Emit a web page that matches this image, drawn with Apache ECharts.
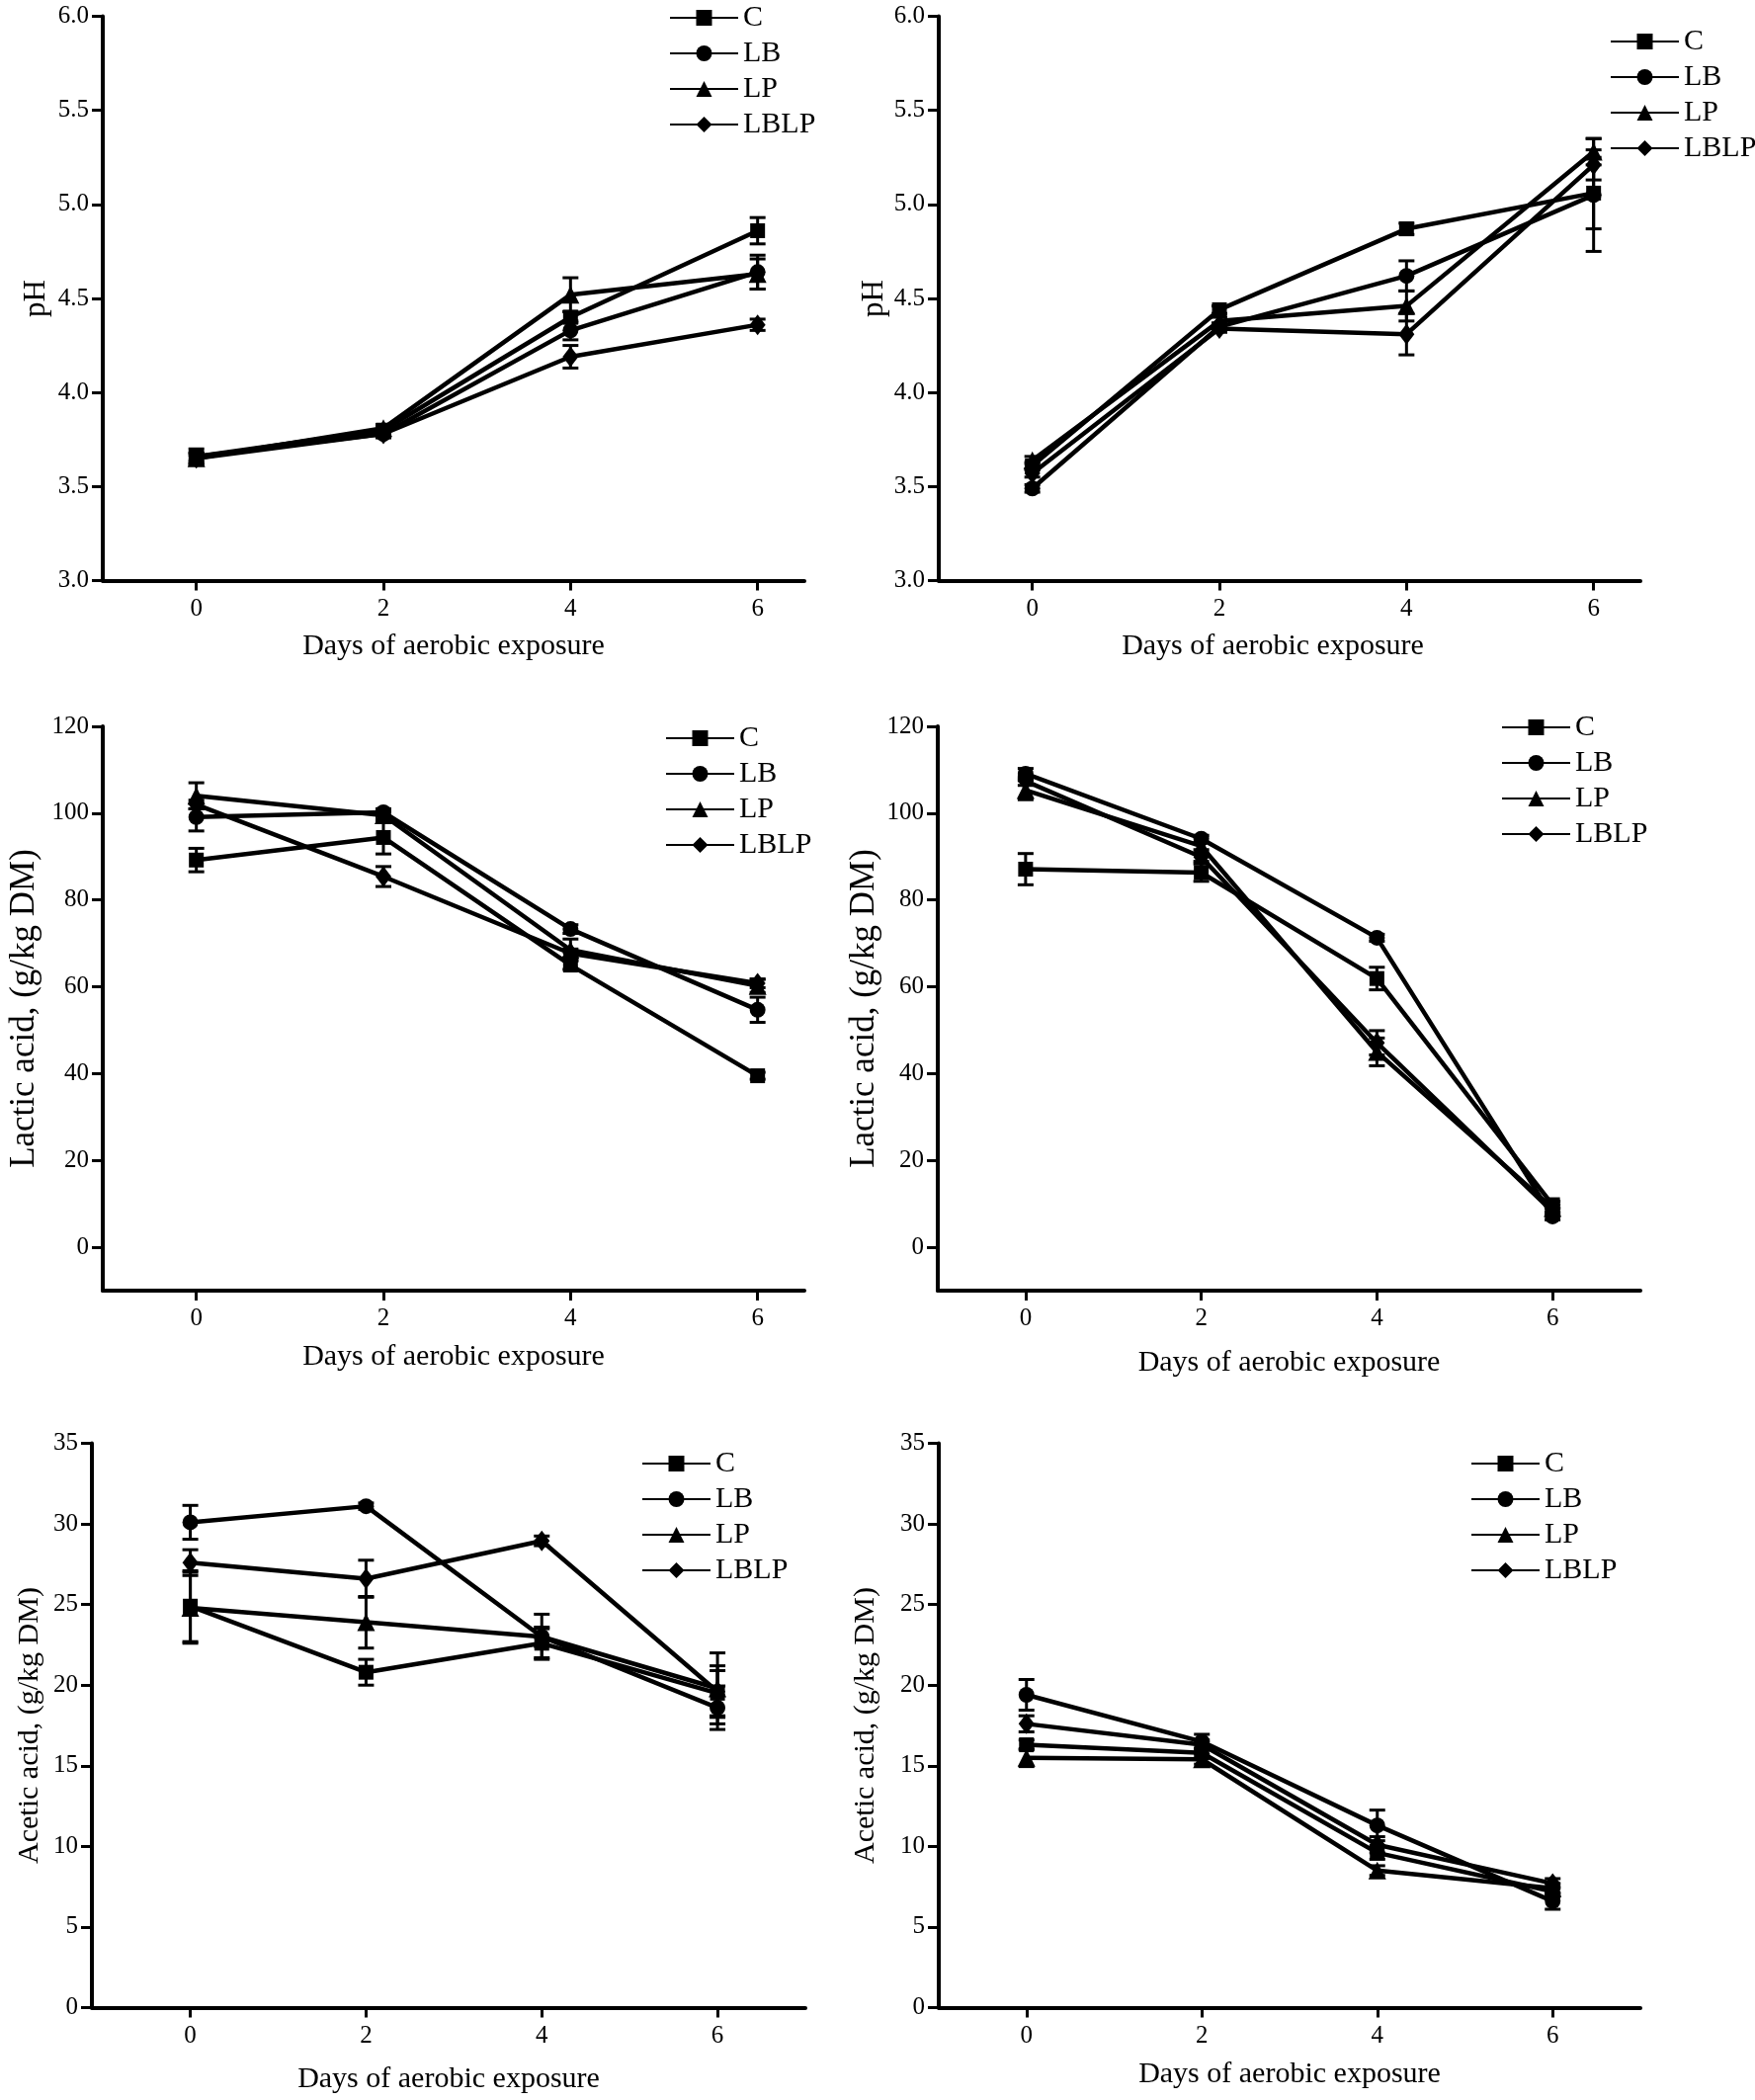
<!DOCTYPE html>
<html>
<head>
<meta charset="utf-8">
<script src="https://cdn.jsdelivr.net/npm/echarts@6/dist/echarts.min.js"></script>
<style>
html,body{margin:0;padding:0;background:#fff;}
#chart{width:1776px;height:2125px;}
</style>
</head>
<body>
<div id="chart"></div>
<script>
// ---- data ----
const days = [0, 2, 4, 6];
const seriesNames = ['C', 'LB', 'LP', 'LBLP'];
const xTickLabels = [0, 2, 4, 6];

// Panel A: pH (left)
const phA_C = [3.66, 3.80, 4.40, 4.86];
const phA_LB = [3.66, 3.78, 4.33, 4.64];
const phA_LP = [3.65, 3.81, 4.52, 4.63];
const phA_LBLP = [3.65, 3.78, 4.19, 4.36];
const phA_C_err = [0.04, 0.02, 0.03, 0.07];
const phA_LB_err = [0.02, 0.02, 0.05, 0.09];
const phA_LP_err = [0.03, 0.02, 0.09, 0.08];
const phA_LBLP_err = [0.02, 0.02, 0.06, 0.03];

// Panel B: pH (right)
const phB_C = [3.61, 4.44, 4.87, 5.06];
const phB_LB = [3.49, 4.35, 4.62, 5.05];
const phB_LP = [3.64, 4.38, 4.46, 5.28];
const phB_LBLP = [3.57, 4.34, 4.31, 5.21];
const phB_C_err = [0.02, 0.02, 0.03, 0.19];
const phB_LB_err = [0.02, 0.02, 0.08, 0.30];
const phB_LP_err = [0.02, 0.02, 0.08, 0.07];
const phB_LBLP_err = [0.02, 0.02, 0.11, 0.08];

// Panel C: lactic acid (left)
const laA_C = [89.2, 94.4, 65.0, 39.5];
const laA_LB = [99.1, 100.2, 73.3, 54.7];
const laA_LP = [104.0, 99.5, 68.5, 60.2];
const laA_LBLP = [102.0, 85.4, 67.7, 60.8];
const laA_C_err = [2.7, 3.8, 1.0, 0.8];
const laA_LB_err = [3.2, 0.8, 1.0, 2.9];
const laA_LP_err = [3.0, 0.8, 2.5, 1.5];
const laA_LBLP_err = [1.0, 2.3, 1.0, 1.0];

// Panel D: lactic acid (right)
const laB_C = [87.1, 86.3, 61.9, 9.8];
const laB_LB = [109.1, 94.1, 71.3, 7.1];
const laB_LP = [105.3, 92.4, 45.0, 9.0];
const laB_LBLP = [107.4, 89.9, 47.1, 8.2];
const laB_C_err = [3.6, 2.0, 2.6, 0.8];
const laB_LB_err = [1.2, 0.8, 0.8, 0.8];
const laB_LP_err = [2.2, 0.8, 3.2, 0.8];
const laB_LBLP_err = [1.0, 1.0, 2.8, 0.8];

// Panel E: acetic acid (left)
const acA_C = [24.9, 20.8, 22.6, 19.5];
const acA_LB = [30.1, 31.1, 23.0, 18.6];
const acA_LP = [24.8, 23.9, 23.0, 19.8];
const acA_LBLP = [27.6, 26.6, 28.95, 19.6];
const acA_C_err = [2.2, 0.8, 0.9, 1.4];
const acA_LB_err = [1.05, 0.2, 1.4, 1.35];
const acA_LP_err = [2.2, 1.6, 0.6, 2.2];
const acA_LBLP_err = [0.8, 1.15, 0.3, 1.6];

// Panel F: acetic acid (right)
const acB_C = [16.3, 15.8, 9.6, 7.2];
const acB_LB = [19.4, 16.5, 11.3, 6.6];
const acB_LP = [15.5, 15.4, 8.5, 7.4];
const acB_LBLP = [17.6, 16.3, 10.1, 7.7];
const acB_C_err = [0.3, 0.3, 0.4, 0.3];
const acB_LB_err = [0.95, 0.45, 0.95, 0.5];
const acB_LP_err = [0.55, 0.3, 0.3, 0.3];
const acB_LBLP_err = [0.5, 0.3, 0.5, 0.3];

const phTicks = [3.0, 3.5, 4.0, 4.5, 5.0, 5.5, 6.0];
const lacticTicks = [0, 20, 40, 60, 80, 100, 120];
const aceticTicks = [0, 5, 10, 15, 20, 25, 30, 35];

// ---- layout / style ----
const FONT = '"Liberation Serif", "Times New Roman", serif';
const panels = [
  { vals: [phA_C, phA_LB, phA_LP, phA_LBLP], errs: [phA_C_err, phA_LB_err, phA_LP_err, phA_LBLP_err],
    grid: { left: 104, top: 16.5, width: 710, height: 571 }, xMin: -1, xMax: 6.5,
    yMin: 3, yMax: 6, yTicks: phTicks, dec: 1, yName: 'pH', yFont: 31, yGap: 52, xGap: 52, xPad: 0,
    legend: { left: 672, top: -3 } },
  { vals: [phB_C, phB_LB, phB_LP, phB_LBLP], errs: [phB_C_err, phB_LB_err, phB_LP_err, phB_LBLP_err],
    grid: { left: 950, top: 16.5, width: 710, height: 571 }, xMin: -1, xMax: 6.5,
    yMin: 3, yMax: 6, yTicks: phTicks, dec: 1, yName: 'pH', yFont: 31, yGap: 50, xGap: 52, xPad: 34,
    legend: { left: 1624, top: 21 } },
  { vals: [laA_C, laA_LB, laA_LP, laA_LBLP], errs: [laA_C_err, laA_LB_err, laA_LP_err, laA_LBLP_err],
    grid: { left: 104, top: 735, width: 710, height: 571 }, xMin: -1, xMax: 6.5,
    yMin: -10, yMax: 120, yTicks: lacticTicks, dec: 0, yName: 'Lactic acid, (g/kg DM)', yFont: 35, yGap: 62, xGap: 52, xPad: 0,
    legend: { left: 668, top: 726 } },
  { vals: [laB_C, laB_LB, laB_LP, laB_LBLP], errs: [laB_C_err, laB_LB_err, laB_LP_err, laB_LBLP_err],
    grid: { left: 949, top: 735, width: 711, height: 571 }, xMin: -1, xMax: 7,
    yMin: -10, yMax: 120, yTicks: lacticTicks, dec: 0, yName: 'Lactic acid, (g/kg DM)', yFont: 35, yGap: 57, xGap: 58, xPad: 0,
    legend: { left: 1514, top: 715 } },
  { vals: [acA_C, acA_LB, acA_LP, acA_LBLP], errs: [acA_C_err, acA_LB_err, acA_LP_err, acA_LBLP_err],
    grid: { left: 93, top: 1460.5, width: 722, height: 571 }, xMin: -1.12, xMax: 7,
    yMin: 0, yMax: 35, yTicks: aceticTicks, dec: 0, yName: 'Acetic acid, (g/kg DM)', yFont: 30, yGap: 48, xGap: 58, xPad: 0,
    legend: { left: 644, top: 1460 } },
  { vals: [acB_C, acB_LB, acB_LP, acB_LBLP], errs: [acB_C_err, acB_LB_err, acB_LP_err, acB_LBLP_err],
    grid: { left: 950, top: 1460.5, width: 710, height: 571 }, xMin: -1, xMax: 7,
    yMin: 0, yMax: 35, yTicks: aceticTicks, dec: 0, yName: 'Acetic acid, (g/kg DM)', yFont: 30, yGap: 59, xGap: 53, xPad: 0,
    legend: { left: 1483, top: 1460 } }
];

const symbols = ['rect', 'circle', 'triangle', 'diamond'];
const symbolSizes = [15, 16, 18, [16, 21]];

const grids = [], xAxes = [], yAxes = [], series = [], legends = [];

function errorRender(params, api) {
  const x = api.value(0), y = api.value(1), e = api.value(2);
  const top = api.coord([x, y + e]);
  const bot = api.coord([x, y - e]);
  const cap = 8;
  const st = { stroke: '#000', lineWidth: 3 };
  return {
    type: 'group',
    children: [
      { type: 'line', shape: { x1: top[0], y1: top[1], x2: bot[0], y2: bot[1] }, style: st },
      { type: 'line', shape: { x1: top[0] - cap, y1: top[1], x2: top[0] + cap, y2: top[1] }, style: st },
      { type: 'line', shape: { x1: bot[0] - cap, y1: bot[1], x2: bot[0] + cap, y2: bot[1] }, style: st }
    ]
  };
}

panels.forEach((p, i) => {
  grids.push(Object.assign({ containLabel: false, outerBoundsMode: 'none' }, p.grid));
  xAxes.push({
    gridIndex: i, type: 'value', min: p.xMin, max: p.xMax,
    axisLine: { show: true, onZero: false, lineStyle: { color: '#000', width: 4 } },
    axisTick: { show: true, inside: false, length: 10, customValues: xTickLabels, lineStyle: { color: '#000', width: 3 } },
    axisLabel: { show: true, customValues: xTickLabels, margin: 16, color: '#000', fontSize: 25, fontFamily: FONT },
    splitLine: { show: false },
    name: 'Days of aerobic exposure', nameLocation: 'middle', nameGap: p.xGap,
    nameTextStyle: { color: '#000', fontSize: 30, fontFamily: FONT, padding: [0, p.xPad, 0, 0] }
  });
  yAxes.push({
    gridIndex: i, type: 'value', min: p.yMin, max: p.yMax,
    axisLine: { show: true, onZero: false, lineStyle: { color: '#000', width: 4 } },
    axisTick: { show: true, inside: false, length: 11, customValues: p.yTicks, lineStyle: { color: '#000', width: 3 } },
    axisLabel: { show: true, customValues: p.yTicks, margin: 14, color: '#000', fontSize: 25, fontFamily: FONT,
      formatter: v => Number(v).toFixed(p.dec) },
    splitLine: { show: false },
    name: p.yName, nameLocation: 'middle', nameRotate: 90, nameGap: p.yGap,
    nameTextStyle: { color: '#000', fontSize: p.yFont, fontFamily: FONT }
  });
  // error bars
  const errData = [];
  p.vals.forEach((arr, s) => {
    arr.forEach((v, k) => errData.push([days[k], v, p.errs[s][k]]));
  });
  series.push({
    type: 'custom', xAxisIndex: i, yAxisIndex: i, renderItem: errorRender,
    data: errData, encode: { x: 0, y: 1 }, z: 1, silent: true
  });
  // lines
  p.vals.forEach((arr, s) => {
    series.push({
      name: seriesNames[s], type: 'line', xAxisIndex: i, yAxisIndex: i,
      data: arr.map((v, k) => [days[k], v]),
      symbol: symbols[s], symbolSize: symbolSizes[s], showSymbol: true,
      itemStyle: { color: '#000' },
      lineStyle: { color: '#000', width: 4.5 },
      z: 3
    });
  });
  legends.push({
    orient: 'vertical', left: p.legend.left, top: p.legend.top,
    itemWidth: 69, itemHeight: 20, itemGap: 4, selectedMode: false,
    data: seriesNames,
    textStyle: { color: '#000', fontSize: 30, lineHeight: 32, fontFamily: FONT }
  });
});

const chart = echarts.init(document.getElementById('chart'), null, { renderer: 'canvas' });
chart.setOption({
  animation: false,
  backgroundColor: '#fff',
  grid: grids,
  xAxis: xAxes,
  yAxis: yAxes,
  legend: legends,
  series: series
});
</script>
</body>
</html>
